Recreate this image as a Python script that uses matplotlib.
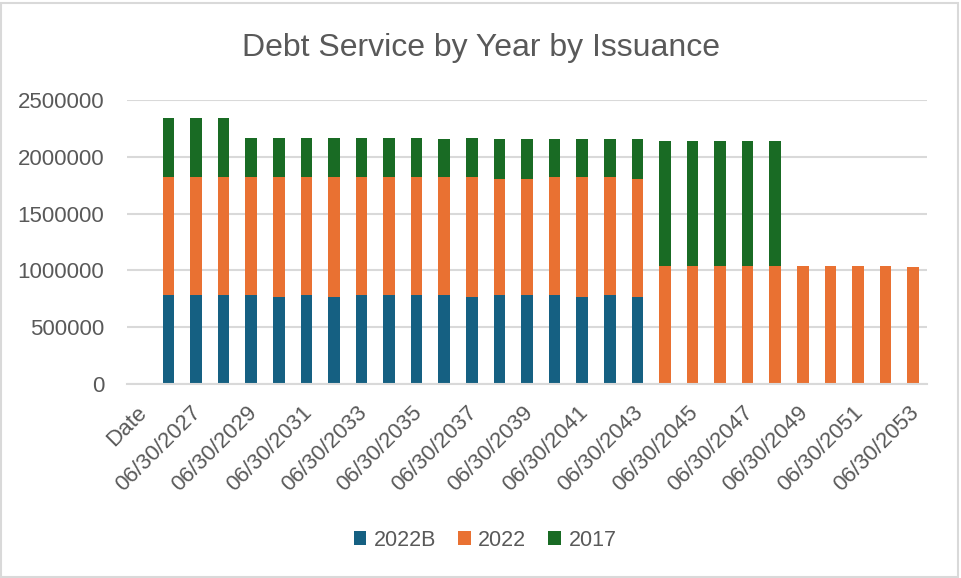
import matplotlib
matplotlib.use("Agg")
import matplotlib.pyplot as plt
from matplotlib.patches import Rectangle
from matplotlib.transforms import ScaledTranslation

plt.rcParams['font.family'] = ['Liberation Sans', 'DejaVu Sans']

categories = ["Date"] + [f"06/30/{y}" for y in range(2026, 2054)]

s2022B = [0,
          783000, 783000, 783000, 783000, 768000, 783000, 768000, 783000, 783000,
          783000, 783000, 768000, 783000, 783000, 783000, 768000, 783000, 768000,
          0, 0, 0, 0, 0, 0, 0, 0, 0, 0]
s2022 = [0,
         1038000, 1038000, 1038000, 1038000, 1053000, 1038000, 1053000, 1038000, 1038000,
         1038000, 1038000, 1053000, 1023000, 1023000, 1038000, 1053000, 1038000, 1038000,
         1041000, 1041000, 1041000, 1041000, 1041000,
         1041000, 1041000, 1041000, 1041000, 1027000]
s2017 = [0,
         518000, 518000, 518000, 347000, 347000, 347000, 347000, 347000, 347000,
         347000, 338000, 347000, 353000, 353000, 338000, 338000, 338000, 353000,
         1095000, 1095000, 1095000, 1095000, 1095000,
         0, 0, 0, 0, 0]

series = [("2022B", s2022B, "#156082"), ("2022", s2022, "#E97132"), ("2017", s2017, "#196B24")]

W, H = 961, 578
fig = plt.figure(figsize=(W / 100, H / 100), dpi=100)
ax = fig.add_axes([127 / W, 1 - 384 / H, 800 / W, 284 / H])

x = list(range(len(categories)))
bottom = [0] * len(categories)
for name, vals, col in series:
    ax.bar(x, vals, width=0.42, bottom=bottom, color=col, label=name, zorder=3)
    bottom = [b + v for b, v in zip(bottom, vals)]

ax.set_xlim(-0.5, len(categories) - 0.5)
ax.set_ylim(0, 2500000)
ax.set_yticks([0, 500000, 1000000, 1500000, 2000000, 2500000])
ax.set_yticklabels(["0", "500000", "1000000", "1500000", "2000000", "2500000"])
ax.yaxis.grid(True, color="#D9D9D9", linewidth=1.5, zorder=0)
ax.set_axisbelow(True)
for s in ["top", "right", "left"]:
    ax.spines[s].set_visible(False)
ax.spines["bottom"].set_color("#D9D9D9")
ax.spines["bottom"].set_linewidth(1.5)
ax.spines["bottom"].set_zorder(4)
ax.tick_params(axis="both", length=0, colors="#595959", labelsize=16)
ax.tick_params(axis="y", pad=16.5)

tick_pos = x[::2]
ax.set_xticks(tick_pos)
ax.set_xticklabels([categories[i] for i in tick_pos], rotation=45, ha="right",
                   va="top", rotation_mode="anchor")
ax.tick_params(axis="x", pad=13)
shift = ScaledTranslation(-5 / 100, 0, fig.dpi_scale_trans)
for lbl in ax.get_xticklabels():
    lbl.set_transform(lbl.get_transform() + shift)

fig.text(0.5, 1 - 56 / H, "Debt Service by Year by Issuance", ha="center", va="baseline",
         fontsize=23, color="#595959")

leg = fig.legend(loc="center", bbox_to_anchor=(485 / W, 1 - 540 / H), ncol=3, frameon=False,
                 fontsize=15.5, handlelength=0.6, handleheight=0.6, handletextpad=0.35,
                 columnspacing=1.0)
for t in leg.get_texts():
    t.set_color("#595959")

fig.patches.append(Rectangle((1 / W, 1 / H), (W - 4) / W, (H - 4) / H, transform=fig.transFigure,
                             fill=False, edgecolor="#D9D9D9", linewidth=1.5))

fig.savefig("out.png", dpi=100, facecolor="white")
